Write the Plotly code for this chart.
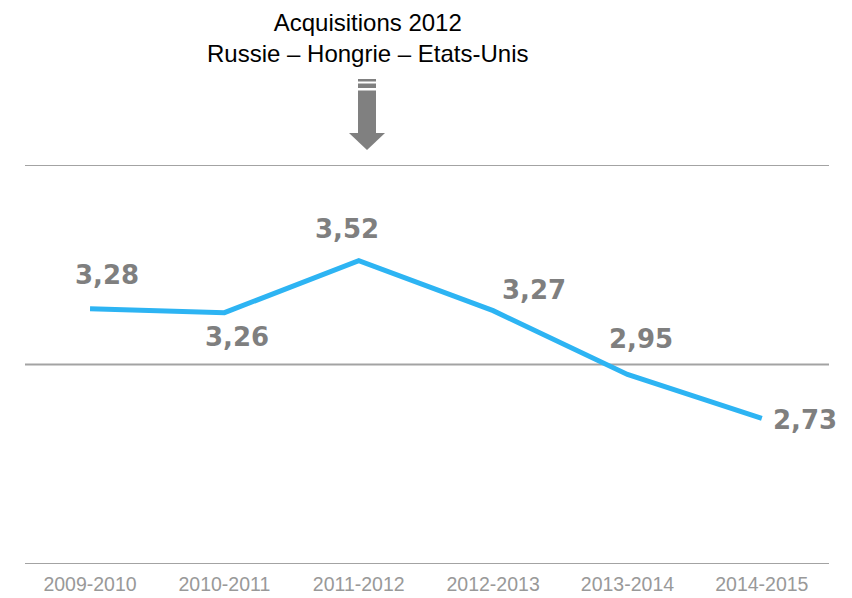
import plotly.graph_objects as go

periods = ["2009-2010", "2010-2011", "2011-2012", "2012-2013", "2013-2014", "2014-2015"]
values = [3.28, 3.26, 3.52, 3.27, 2.95, 2.73]
value_labels = ["3,28", "3,26", "3,52", "3,27", "2,95", "2,73"]
grid_values = [2, 3, 4]
# pixel offsets of each value label relative to its point (x right, y up)
label_dx = [17, 13, -12, 41, 14, 43]
label_dy = [34, -24, 32, 21, 35, -2]

OFF = 8  # page body margin
W, H = 852 - OFF, 598 - OFF
ML, MT = 25 - OFF, 165 - OFF
PW, PH = 804, 399
MR, MB = W - ML - PW, H - MT - PH


def px(x):
    return (x - OFF - ML) / PW


def py(y):
    return (MT + PH - (y - OFF)) / PH


xs = list(range(len(periods)))

fig = go.Figure()

shapes = []
for g in grid_values:
    shapes.append(dict(type="line", xref="paper", yref="y", x0=0, x1=1, y0=g, y1=g,
                       line=dict(color="#a3a3a3", width=2), layer="below"))

fig.add_trace(go.Scatter(
    x=xs, y=values, mode="lines",
    line=dict(color="#2db4f3", width=5),
    hoverinfo="skip", showlegend=False, cliponaxis=False,
))

annotations = []
for i, (v, t) in enumerate(zip(values, value_labels)):
    annotations.append(dict(
        x=xs[i], y=v, xref="x", yref="y", text=t, showarrow=False,
        xshift=label_dx[i], yshift=label_dy[i],
        font=dict(family="DejaVu Sans", size=26, color="#7f7f7f", weight="bold"),
        xanchor="center", yanchor="middle",
    ))

annotations.append(dict(
    x=px(367), y=py(38), xref="paper", yref="paper",
    text="Acquisitions 2012<br>Russie – Hongrie – Etats-Unis",
    showarrow=False, xanchor="center", yanchor="middle",
    font=dict(family="Liberation Sans, Arial", size=24, color="#000000"),
))

gray = "#808080"
shapes += [
    dict(type="rect", xref="paper", yref="paper", x0=px(358), x1=px(376), y0=py(81.5), y1=py(79),
         fillcolor=gray, line=dict(width=0)),
    dict(type="rect", xref="paper", yref="paper", x0=px(358), x1=px(376), y0=py(88), y1=py(83.5),
         fillcolor=gray, line=dict(width=0)),
    dict(type="rect", xref="paper", yref="paper", x0=px(358), x1=px(376), y0=py(133), y1=py(90.5),
         fillcolor=gray, line=dict(width=0)),
    dict(type="path", xref="paper", yref="paper",
         path=f"M {px(349)},{py(133)} L {px(385)},{py(133)} L {px(367)},{py(150)} Z",
         fillcolor=gray, line=dict(width=0)),
]

fig.update_layout(
    width=W, height=H,
    margin=dict(l=ML, r=MR, t=MT, b=MB, pad=0, autoexpand=False),
    paper_bgcolor="white", plot_bgcolor="white",
    annotations=annotations, shapes=shapes,
    xaxis=dict(
        range=[-0.484, 5.5], tickmode="array", tickvals=xs, ticktext=periods,
        showgrid=False, zeroline=False, showline=False, automargin=False,
        tickfont=dict(family="Liberation Sans, Arial", size=19.5, color="#999999"),
        ticks="", ticklabelstandoff=6, fixedrange=True,
    ),
    yaxis=dict(
        range=[2, 4], showticklabels=False, showgrid=False, automargin=False,
        zeroline=False, showline=False, fixedrange=True,
    ),
)

fig.write_html("out.html")
